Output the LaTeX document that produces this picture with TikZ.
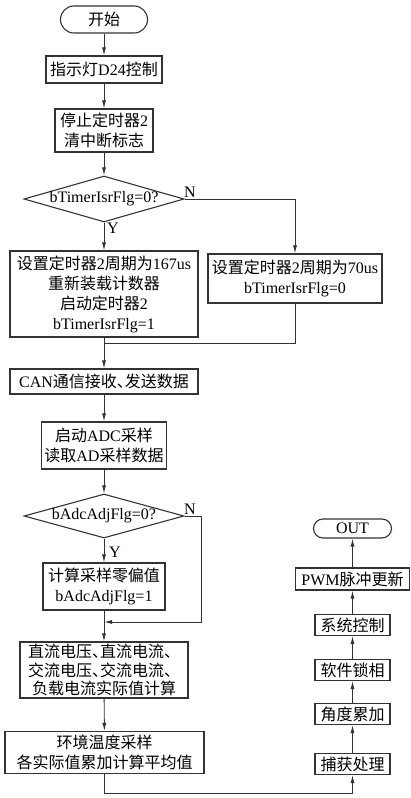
\documentclass[tikz,border=0pt]{standalone}
\usepackage{fontspec}
\setmainfont{Liberation Serif}
\newfontfamily\cjkf{Noto Sans CJK SC}
\newcommand\C[1]{{\cjkf #1}}
\newcommand\dun{\makebox[0.5em][l]{\C{、}}}
\usetikzlibrary{arrows.meta,shapes.geometric}
\definecolor{lc}{HTML}{333333}
\tikzset{
  box/.style={draw=lc, line width=1.1pt, fill=white, align=center, inner sep=1pt,
    font=\fontsize{16}{20}\selectfont},
  term/.style={box},
  dia/.style={draw=lc, diamond, line width=1.1pt, inner sep=0pt},
  lbl/.style={font=\fontsize{16}{18}\selectfont, inner sep=0pt},
  arr/.style={-{Latex[length=8pt,width=4pt]}, line width=0.9pt, draw=lc},
  ln/.style={line width=0.9pt, draw=lc}
}
\begin{document}
\begin{tikzpicture}[x=1pt,y=-1pt]
\useasboundingbox[fill=white] (0,0) rectangle (410,798);

% left column
\node[term, minimum width=87pt, minimum height=27pt, rounded corners=13.5pt] (start) at (104,19.5) {\C{开始}};
\node[box, minimum width=116pt, minimum height=27pt] (b1) at (104,69.5) {\C{指示灯}D24\C{控制}};
\node[box, minimum width=98pt, minimum height=43pt] (b2) at (104,130.5) {\C{停止定时器}2\\\C{清中断标志}};
\node[dia, minimum width=160pt, minimum height=46pt, label={[lbl]center:{bTimerIsrFlg=0?}}] (d1) at (104,199) {};
\node[box, minimum width=188pt, minimum height=86pt] (L1) at (104,294) {\C{设置定时器}2\C{周期为}167us\\\C{重新装载计数器}\\\C{启动定时器}2\\bTimerIsrFlg=1};
\node[box, minimum width=174pt, minimum height=49pt] (R1) at (295,278.5) {\C{设置定时器}2\C{周期为}70us\\bTimerIsrFlg=0};
\coordinate (m1) at (104,343);
\node[box, minimum width=188pt, minimum height=25pt] (can) at (104,381.5) {CAN\C{通信接收}\dun\C{发送数据}};
\node[box, minimum width=125pt, minimum height=47pt] (adc) at (104,445.5) {\C{启动}ADC\C{采样}\\\C{读取}AD\C{采样数据}};
\node[dia, minimum width=160pt, minimum height=44pt, label={[lbl]center:{bAdcAdjFlg=0?}}] (d2) at (104,516) {};
\node[box, minimum width=122pt, minimum height=47pt] (calc) at (104,586.5) {\C{计算采样零偏值}\\bAdcAdjFlg=1};
\coordinate (m2r) at (201,622);
\coordinate (m2) at (104,622);
\node[box, minimum width=168pt, minimum height=56pt, font=\fontsize{16}{18.5}\selectfont] (dc) at (104,670) {\C{直流电压}\dun\C{直流电流、}\\\C{交流电压}\dun\C{交流电流、}\\\C{负载电流实际值计算}};
\node[box, minimum width=199pt, minimum height=42pt] (env) at (104.5,752.5) {\C{环境温度采样}\\\C{各实际值累加计算平均值}};
\coordinate (m3) at (104,793);

% right column
\node[box, minimum width=75pt, minimum height=21pt] (cap) at (352.5,764) {\C{捕获处理}};
\node[box, minimum width=75pt, minimum height=21pt] (ang) at (352.5,714) {\C{角度累加}};
\node[box, minimum width=75pt, minimum height=21pt] (pll) at (352.5,670) {\C{软件锁相}};
\node[box, minimum width=75pt, minimum height=21pt] (sys) at (352.5,625) {\C{系统控制}};
\node[box, minimum width=114pt, minimum height=22pt] (pwm) at (352.5,579) {PWM\C{脉冲更新}};
\node[term, minimum width=78pt, minimum height=19pt, rounded corners=9.5pt] (out) at (352.5,528.5) {OUT};

% labels
\node[lbl] (n1) at (190,192) {N};
\node[lbl] (y1) at (113,228) {Y};
\node[lbl] (n2) at (190,509) {N};
\node[lbl] (y2) at (115,552) {Y};

% connectors
\draw[arr] (start) -- (b1);
\draw[arr] (b1) -- (b2);
\draw[arr] (b2) -- (d1.north);
\draw[arr] (d1.south) -- (L1.north);
\draw[arr] (d1.east) -| (R1.north);
\draw[ln] (R1.south) |- (m1);
\draw[arr] (L1.south) -- (can.north);
\draw[arr] (can) -- (adc);
\draw[arr] (adc) -- (d2.north);
\draw[arr] (d2.south) -- (calc.north);
\draw[arr] (d2.east) -| (m2r) -- (m2);
\draw[arr] (calc) -- (dc);
\draw[arr] (dc) -- (env);
\draw[arr] (env.south -| m3) -- (m3) -| (cap.south);
\draw[arr] (cap) -- (ang);
\draw[arr] (ang) -- (pll);
\draw[arr] (pll) -- (sys);
\draw[arr] (sys) -- (pwm);
\draw[arr] (pwm) -- (out);
\end{tikzpicture}
\end{document}
